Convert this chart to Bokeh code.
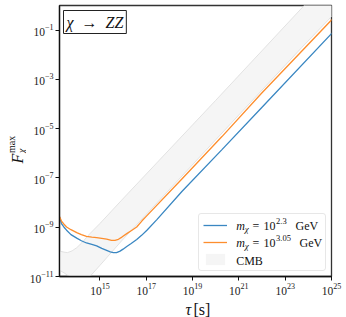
import math
from bokeh.plotting import figure
from bokeh.models import FixedTicker, Label, Legend, LegendItem
from bokeh.layouts import row, column
from bokeh.embed import file_html
from bokeh.resources import INLINE

# ---------------- data (log10 values) ----------------
tau_exp_blue = [13.26, 13.34, 13.45, 13.56, 13.75, 14.0, 14.2, 14.42, 14.65, 14.86, 15.08, 15.29,
                15.45, 15.58, 15.72, 15.87, 16.0, 16.16, 16.35, 16.59, 16.8, 17.03, 17.45, 18.54,
                20.27, 21.99, 25.03]
F_exp_blue = [-8.58, -8.85, -9.0, -9.12, -9.3, -9.44, -9.55, -9.64, -9.7, -9.76, -9.86, -9.94,
              -10.0, -10.03, -10.03, -9.97, -9.89, -9.78, -9.66, -9.5, -9.33, -9.12, -8.70, -7.55,
              -5.85, -4.14, -1.11]

tau_exp_orange = [13.26, 13.34, 13.45, 13.56, 13.75, 14.0, 14.2, 14.42, 14.65, 14.86, 15.08, 15.29,
                  15.5, 15.65, 15.8, 15.95, 16.16, 16.35, 16.59, 16.81, 17.02, 18.54, 20.27, 21.99,
                  25.03]
F_exp_orange = [-8.58, -8.75, -8.88, -8.99, -9.1, -9.22, -9.3, -9.37, -9.4, -9.42, -9.45, -9.48,
                -9.53, -9.53, -9.49, -9.4, -9.26, -9.14, -8.99, -8.75, -8.54, -7.04, -5.32, -3.55,
                -0.56]

tau_exp_cmb = [13.26, 13.45, 13.6, 13.8, 14.0, 14.2, 14.57, 15.0, 15.94, 20.0, 23.72, 25.03]
cmb_upper_exp = [-9.97, -10.01, -10.03, -9.96, -9.83, -9.65, -9.26, -8.85, -7.9, -3.85, -0.1, 1.2]
cmb_lower_exp = [-10.75, -10.85, -10.95, -11.05, -11.12, -11.13, -11.0, -10.55, -9.55, -5.45, -1.7, -0.42]

x_tick_exps = [15, 17, 19, 21, 23, 25]
y_tick_exps = [-11, -9, -7, -5, -3, -1]

label_blue = ("2.3", "GeV")
label_orange = ("3.05", "GeV")
label_cmb = "CMB"
title_text = "χ\u2002→\u2002ZZ"

def pw(lst):
    return [10.0 ** v for v in lst]

SERIF = "Liberation Serif"
INK = "#111111"

# ---------------- layout sizes ----------------
YLAB_W = 26
BORDER_L, FRAME_W, BORDER_R = 32, 272, 12
BORDER_T, FRAME_H, BORDER_B = 5, 271, 22
MAIN_W = BORDER_L + FRAME_W + BORDER_R
MAIN_H = BORDER_T + FRAME_H + BORDER_B
XLAB_H = 19

p = figure(x_axis_type="log", y_axis_type="log",
           x_range=(1.8e13, 1e25), y_range=(1e-11, 1.0),
           frame_width=FRAME_W, frame_height=FRAME_H,
           min_border_left=BORDER_L, min_border_right=BORDER_R,
           min_border_top=BORDER_T, min_border_bottom=BORDER_B,
           output_backend="svg", toolbar_location=None)

p.grid.visible = False
p.background_fill_color = "white"
p.border_fill_color = "white"
p.outline_line_color = "#333333"
p.outline_line_width = 1.3

for ax in (p.xaxis[0], p.yaxis[0]):
    ax.axis_line_color = INK
    ax.axis_line_width = 1.3
    ax.major_tick_line_color = INK
    ax.major_tick_in = 0
    ax.major_tick_out = 4
    ax.minor_tick_line_color = None
    ax.major_label_text_font = SERIF
    ax.major_label_text_font_size = "11.5px"
    ax.major_label_text_color = "#222222"
    ax.major_label_standoff = 2

p.xaxis[0].ticker = FixedTicker(ticks=[10.0 ** e for e in x_tick_exps])
p.yaxis[0].ticker = FixedTicker(ticks=[10.0 ** e for e in y_tick_exps])

# CMB band
band = p.varea(x=pw(tau_exp_cmb), y1=pw(cmb_lower_exp), y2=pw(cmb_upper_exp),
               fill_color="#f5f5f5")
p.line(pw(tau_exp_cmb), pw(cmb_upper_exp), line_color="#e2e2e2", line_width=1)
p.line(pw(tau_exp_cmb), pw(cmb_lower_exp), line_color="#e2e2e2", line_width=1)

blue = p.line(pw(tau_exp_blue), pw(F_exp_blue), line_color="#3a87c2", line_width=1.3)
orange = p.line(pw(tau_exp_orange), pw(F_exp_orange), line_color="#fd8e2e", line_width=1.3)

legend = Legend(items=[LegendItem(label=" ", renderers=[blue]),
                       LegendItem(label=" ", renderers=[orange]),
                       LegendItem(label=" ", renderers=[band])],
                location="bottom_right", margin=5, padding=4, spacing=3,
                glyph_width=24, glyph_height=14, label_height=14, label_width=86,
                label_standoff=8, border_line_color="#d0d0d0", border_line_width=1,
                background_fill_alpha=0.0, border_radius=3)
p.add_layout(legend)

# page px -> frame-relative screen px of the main figure
FL = YLAB_W + BORDER_L
FB = BORDER_T + FRAME_H
def sx(px):
    return px - FL
def sy(py):
    return FB - py

def make_label(text, x, y, size, italic=False, align="left", baseline="middle", angle=0.0, **kw):
    return Label(x=x, y=y, x_units="screen", y_units="screen", text=text,
                 text_font=SERIF, text_font_size=f"{size}px",
                 text_font_style="italic" if italic else "normal",
                 text_align=align, text_baseline=baseline, angle=angle,
                 text_color=INK, level="overlay", **kw)

def lab(text, px, py, size, **kw):
    p.add_layout(make_label(text, sx(px), sy(py), size, **kw))

# legend texts
rows = [(225.7, label_blue, 294), (242.3, label_orange, 298)]
for ry, (expo, unit), gx in rows:
    lab("m", 234.7, ry, 12, italic=True)
    lab("χ", 243.3, ry + 3, 9, italic=True)
    lab("=", 251.0, ry, 12)
    lab("10", 262.0, ry, 12)
    lab(expo, 274.5, ry - 5, 8.5)
    lab(unit, gx, ry, 12)
lab(label_cmb, 234.7, 260, 12)

# title box
lab(title_text, 62, 10, 16, italic=True, baseline="top",
    border_line_color="#222222", border_line_width=1, background_fill_color="white",
    padding=3)

# ---------------- blank strips for the axis titles ----------------
def blank_fig(fw, fh, bt=0, bb=0):
    f = figure(frame_width=fw, frame_height=fh, x_range=(0, 1), y_range=(0, 1),
               min_border_left=0, min_border_right=0, min_border_top=bt, min_border_bottom=bb,
               x_axis_location=None, y_axis_location=None,
               output_backend="svg", toolbar_location=None)
    f.grid.visible = False
    f.outline_line_color = None
    f.background_fill_color = "white"
    f.border_fill_color = "white"
    return f

# y label strip: its frame spans the same page rows as the main frame
ylab = blank_fig(YLAB_W, FRAME_H, BORDER_T, BORDER_B)
ang = math.pi / 2
ylab.add_layout(make_label("F", 17, sy(163), 16, italic=True, baseline="alphabetic", angle=ang))
ylab.add_layout(make_label("χ", 20.5, sy(152.5), 10, italic=True, baseline="alphabetic", angle=ang))
ylab.add_layout(make_label("max", 10.5, sy(152.5), 10, baseline="alphabetic", angle=ang))

# x label strip
xlab = blank_fig(YLAB_W + MAIN_W, XLAB_H)
XTOP = MAIN_H
xlab.add_layout(make_label("τ", 185, XTOP + XLAB_H - 309, 16, italic=True, baseline="alphabetic"))
xlab.add_layout(make_label("[s]", 193, XTOP + XLAB_H - 309, 16, baseline="alphabetic"))

layout = column(row(ylab, p, spacing=0), xlab, spacing=0)

open("out.html", "w").write(file_html(layout, INLINE))
